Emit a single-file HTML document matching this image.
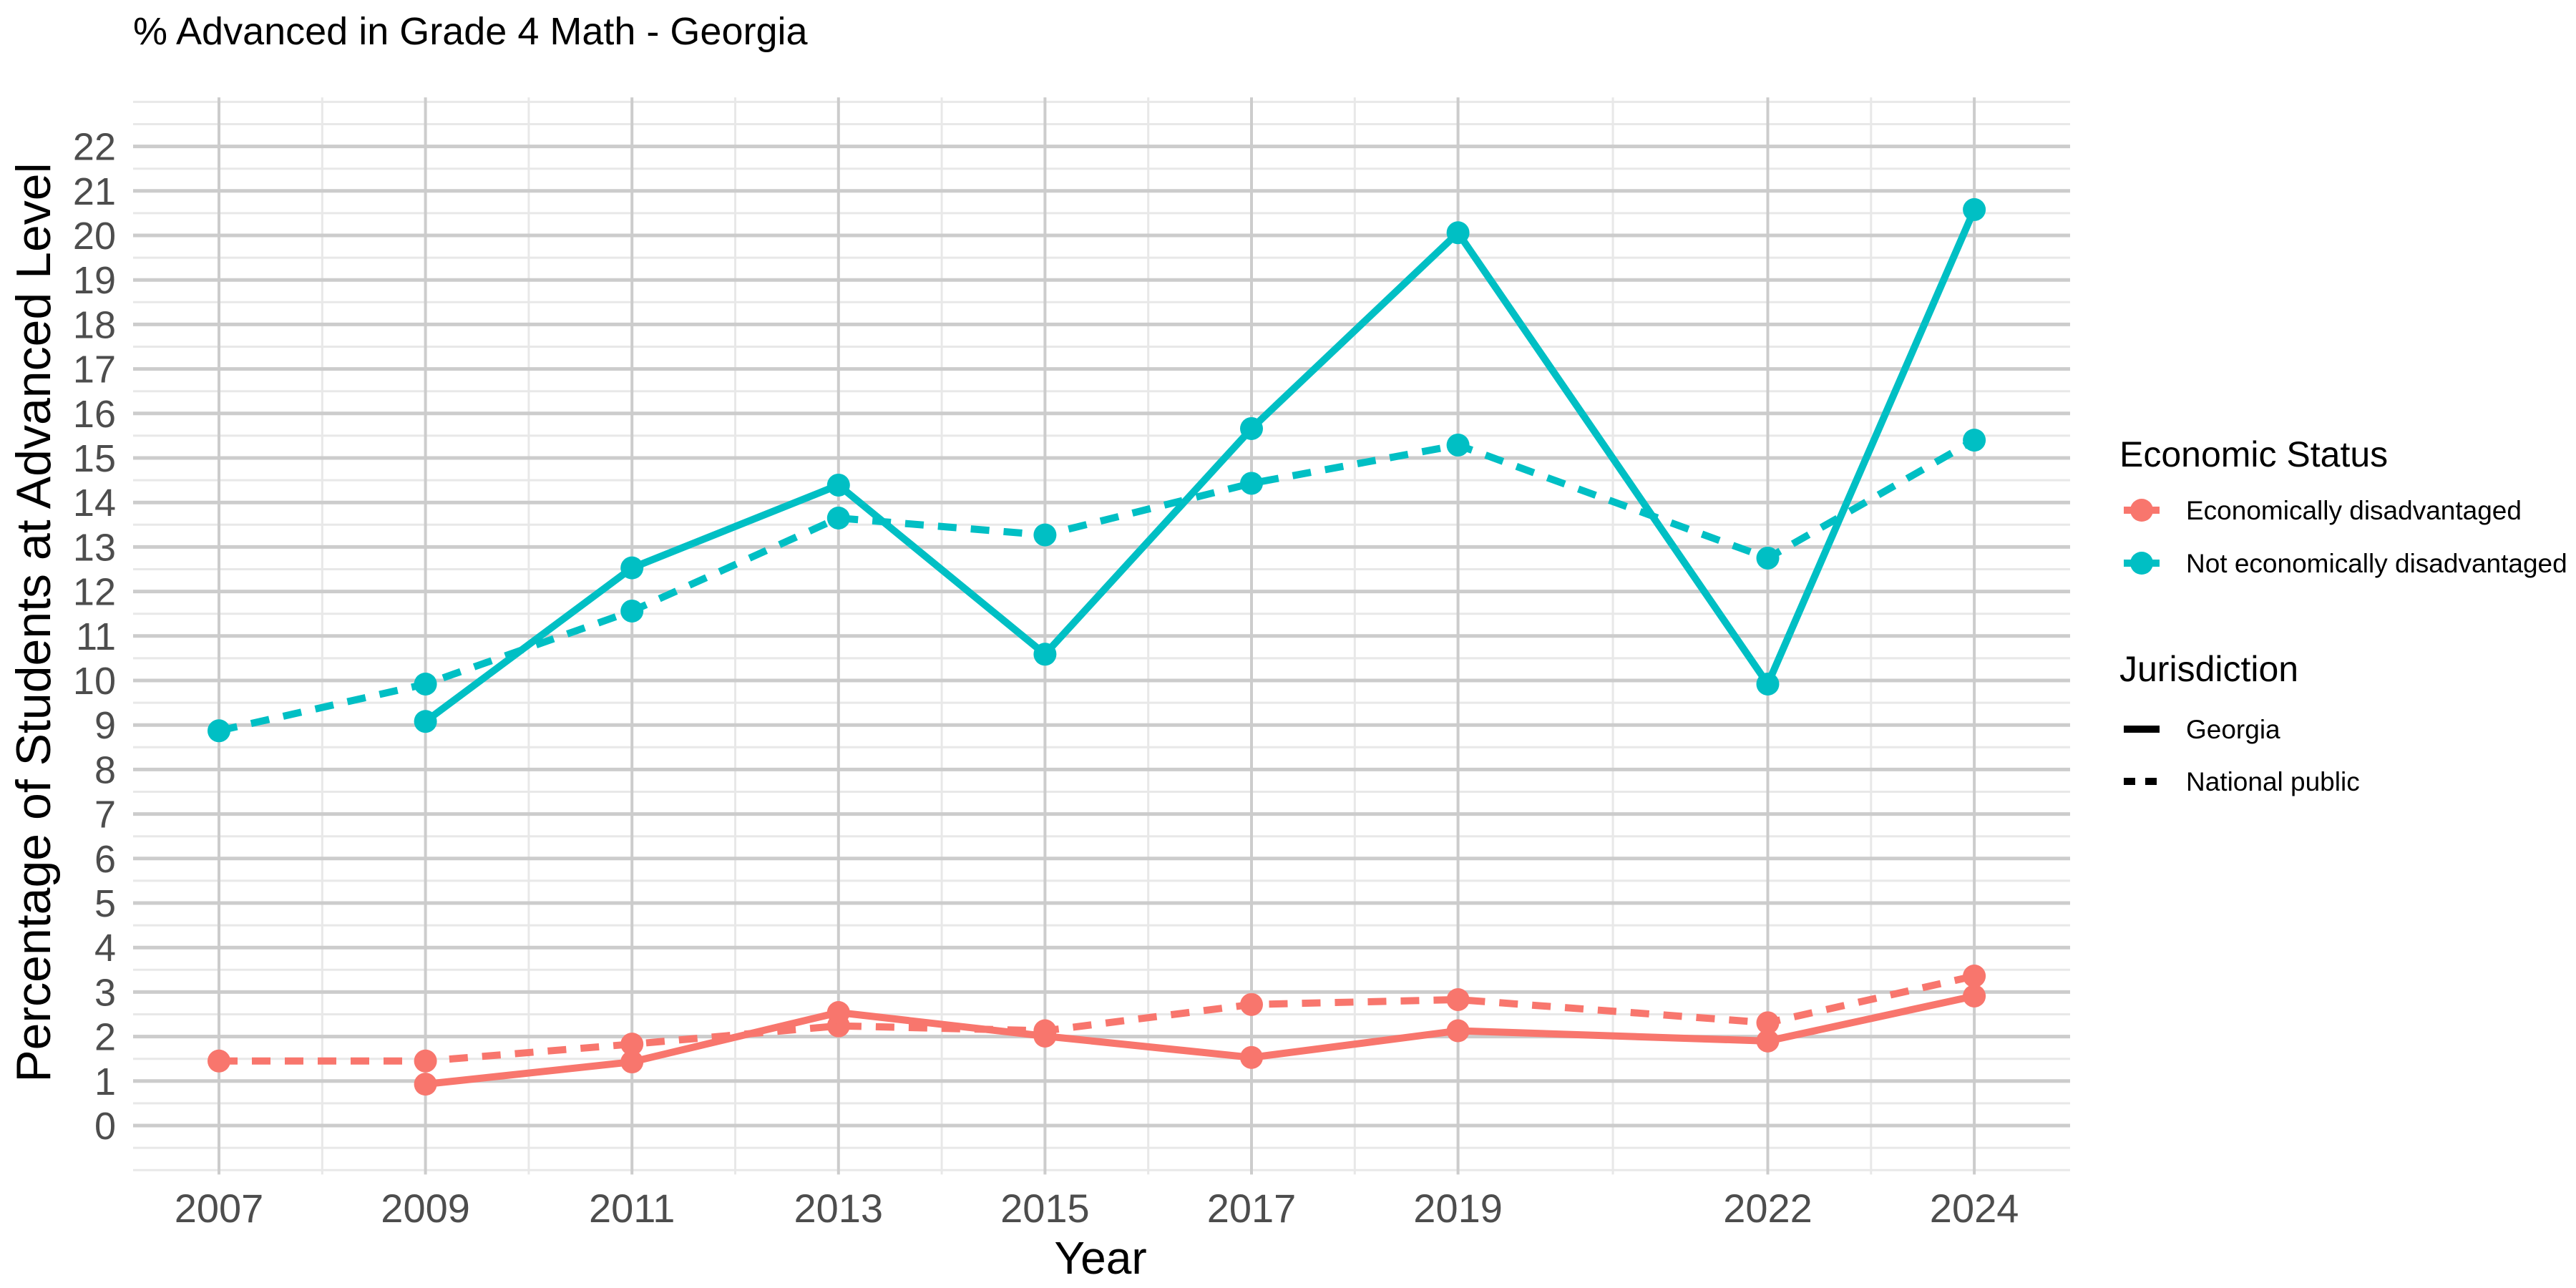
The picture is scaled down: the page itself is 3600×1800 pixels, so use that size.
<!DOCTYPE html>
<html><head><meta charset="utf-8"><style>
html,body{margin:0;padding:0;background:#fff;}
svg{display:block;font-family:"Liberation Sans",Arial,sans-serif;}
</style></head><body>
<svg id="chart" width="3600" height="1800" viewBox="0 0 3600 1800" xmlns="http://www.w3.org/2000/svg">
<text x="186" y="62" font-size="54" fill="#000">% Advanced in Grade 4 Math - Georgia</text>
<g id="grid"></g>
<g id="series"></g>
<g id="yticks"></g>
<g id="xticks"></g>
<text x="1538" y="1780" font-size="64" text-anchor="middle" fill="#000">Year</text>
<text transform="translate(70,870) rotate(-90)" font-size="68" text-anchor="middle" fill="#000">Percentage of Students at Advanced Level</text>
<g>
<text x="2962" y="652" font-size="50" fill="#000">Economic Status</text>
<g>
<line x1="2968" y1="713" x2="3018" y2="713" stroke="#F8766D" stroke-width="10"/>
<circle cx="2993" cy="713" r="16" fill="#F8766D"/>
<text x="3055" y="726" font-size="37" fill="#000">Economically disadvantaged</text>
</g>
<g>
<line x1="2968" y1="787" x2="3018" y2="787" stroke="#00BFC4" stroke-width="10"/>
<circle cx="2993" cy="787" r="16" fill="#00BFC4"/>
<text x="3055" y="800" font-size="37" fill="#000">Not economically disadvantaged</text>
</g>
</g>
<g>
<text x="2962" y="952" font-size="50" fill="#000">Jurisdiction</text>
<g>
<line x1="2968" y1="1019" x2="3018" y2="1019" stroke="#000" stroke-width="10"/>
<text x="3055" y="1032" font-size="37" fill="#000">Georgia</text>
</g>
<g>
<line x1="2968" y1="1092" x2="3018" y2="1092" stroke="#000" stroke-width="10" stroke-dasharray="16,14"/>
<text x="3055" y="1105" font-size="37" fill="#000">National public</text>
</g>
</g>
</svg>
<script>
const years = [2007, 2009, 2011, 2013, 2015, 2017, 2019, 2022, 2024];
const yTicks = [0,1,2,3,4,5,6,7,8,9,10,11,12,13,14,15,16,17,18,19,20,21,22];
const minorX = [2008, 2010, 2012, 2014, 2016, 2018, 2020.5, 2023];
const econGeorgia = [null, 0.93, 1.43, 2.54, 2.01, 1.53, 2.13, 1.9, 2.91];
const econNational = [1.45, 1.45, 1.83, 2.24, 2.13, 2.72, 2.83, 2.31, 3.36];
const notEconGeorgia = [null, 9.08, 12.53, 14.39, 10.59, 15.66, 20.06, 9.92, 20.58];
const notEconNational = [8.87, 9.92, 11.56, 13.65, 13.27, 14.43, 15.29, 12.75, 15.4];

const NS = "http://www.w3.org/2000/svg";
const left = 186, right = 2893;
function xs(v){ return 306 + (v - 2007) * 144.3; }
function ys(v){ return 1573 - v * 62.2; }
function mk(tag, attrs, parent){
  const e = document.createElementNS(NS, tag);
  for (const k in attrs) e.setAttribute(k, attrs[k]);
  parent.appendChild(e);
  return e;
}
const grid = document.getElementById('grid');
for (let v = -1; v <= 23.01; v += 0.5) {
  if (Number.isInteger(v) && v >= 0 && v <= 22) continue;
  const l = mk('line', {x1:left, x2:right, y1:ys(v), y2:ys(v), stroke:'#e8e8e8', 'stroke-width':3}, grid);
  
  
}
minorX.forEach(v => {
  const l = mk('line', {x1:xs(v), x2:xs(v), y1:ys(23.1), y2:ys(-1.1), stroke:'#e8e8e8', 'stroke-width':3}, grid);
  
  
});
yTicks.forEach(v => {
  const l = mk('line', {x1:left, x2:right, y1:ys(v), y2:ys(v), stroke:'#cccccc', 'stroke-width':5}, grid);
  
  
});
years.forEach(v => {
  const l = mk('line', {x1:xs(v), x2:xs(v), y1:ys(23.1), y2:ys(-1.1), stroke:'#cccccc', 'stroke-width':4}, grid);
  
  
});
const yt = document.getElementById('yticks');
yTicks.forEach(v => {
  const t = mk('text', {x:162, y:ys(v)+19, 'font-size':54, 'text-anchor':'end', fill:'#4d4d4d'}, yt);
  
  
  t.textContent = v;
});
const xt = document.getElementById('xticks');
years.forEach(v => {
  const t = mk('text', {x:xs(v), y:1708, 'font-size':56, 'text-anchor':'middle', fill:'#4d4d4d'}, xt);
  
  
  t.textContent = v;
});
const sg = document.getElementById('series');
function drawSeries(vals, color, dashed, name){
  const g = mk('g', {}, sg);
  
  
  const pts = [];
  vals.forEach((v,i) => { if (v !== null) pts.push([xs(years[i]), ys(v)]); });
  const attrs = {points: pts.map(p => p.join(',')).join(' '), fill:'none', stroke:color, 'stroke-width':10, 'stroke-linejoin':'round'};
  if (dashed) attrs['stroke-dasharray'] = '26,20';
  const pl = mk('polyline', attrs, g);
  
  
  pts.forEach(p => {
    const c = mk('circle', {cx:p[0], cy:p[1], r:16, fill:color}, g);
    
    
  });
}
drawSeries(econNational, '#F8766D', true, 'econ-disadvantaged-national');
drawSeries(econGeorgia, '#F8766D', false, 'econ-disadvantaged-georgia');
drawSeries(notEconNational, '#00BFC4', true, 'not-econ-disadvantaged-national');
drawSeries(notEconGeorgia, '#00BFC4', false, 'not-econ-disadvantaged-georgia');
</script>
</body></html>
